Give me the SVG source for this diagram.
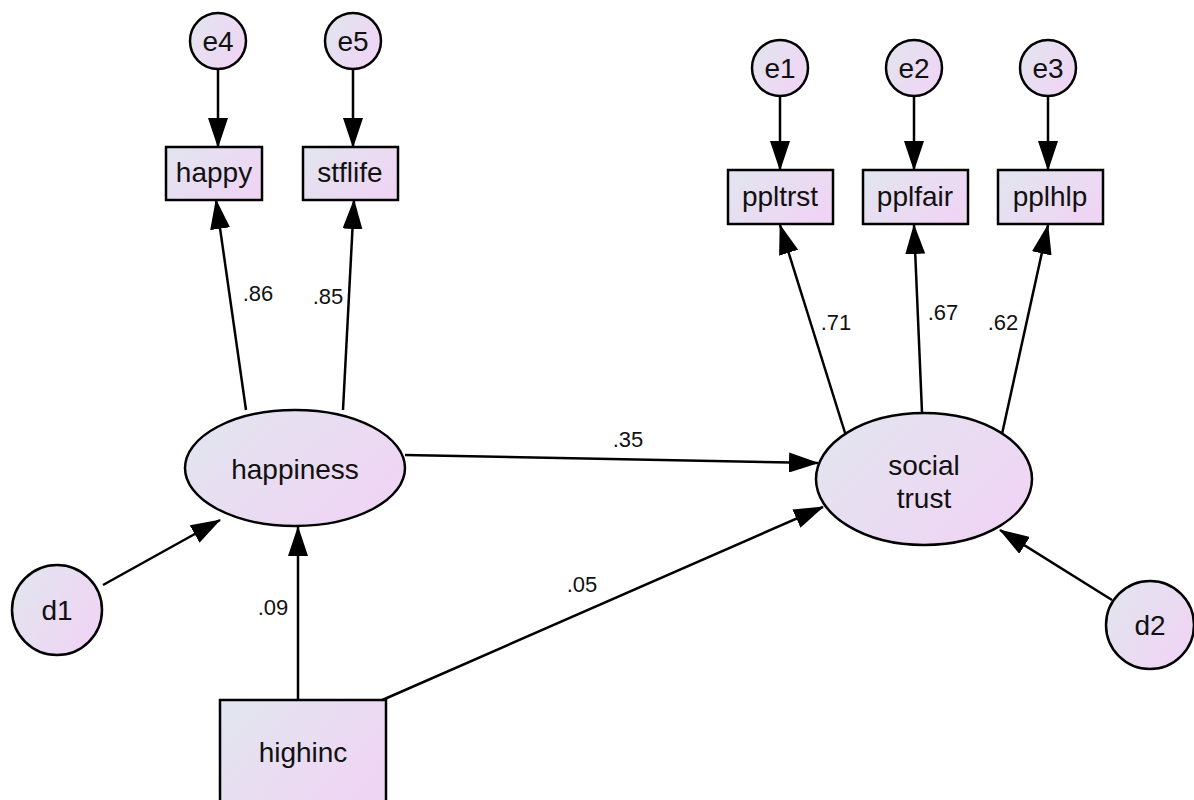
<svg xmlns="http://www.w3.org/2000/svg" width="1194" height="800" viewBox="0 0 1194 800">
<defs>
<linearGradient id="g" x1="0" y1="0" x2="1" y2="0.6">
<stop offset="0" stop-color="#e1e6ee"/>
<stop offset="1" stop-color="#efd5f4"/>
</linearGradient>
<marker id="ah" markerUnits="userSpaceOnUse" markerWidth="30" markerHeight="20" refX="29" refY="10" orient="auto">
<path d="M0,0 L30,10 L0,20 Z" fill="#000"/>
</marker>
</defs>
<style>
.n{fill:url(#g);stroke:#000;stroke-width:2.5}
.t{font-family:"Liberation Sans",Arial,sans-serif;font-size:28px;fill:#111;text-anchor:middle}
.l{font-family:"Liberation Sans",Arial,sans-serif;font-size:22px;fill:#111;text-anchor:middle}
.c line{stroke:#000;stroke-width:2.5;marker-end:url(#ah)}
</style>
<rect width="1194" height="800" fill="#fff"/>
<g class="c" id="connectors">
<line x1="218" y1="69" x2="218" y2="147"/>
<line x1="353" y1="69" x2="353" y2="147"/>
<line x1="780" y1="96" x2="780" y2="170"/>
<line x1="914" y1="96" x2="914" y2="170"/>
<line x1="1048" y1="96" x2="1048" y2="170"/>
<line x1="246" y1="410" x2="216" y2="200"/>
<line x1="343" y1="410" x2="354" y2="200"/>
<line x1="846" y1="436" x2="780" y2="225"/>
<line x1="922" y1="412" x2="914" y2="225"/>
<line x1="1002" y1="434" x2="1048" y2="225"/>
<line x1="405" y1="455" x2="818" y2="463"/>
<line x1="380" y1="701" x2="823" y2="507"/>
<line x1="298" y1="700" x2="298" y2="527"/>
<line x1="103" y1="585" x2="220" y2="520"/>
<line x1="1112" y1="600" x2="1000" y2="530"/>
</g>
<g id="labels">
<text class="l" x="258" y="301">.86</text>
<text class="l" x="328" y="304">.85</text>
<text class="l" x="836" y="330">.71</text>
<text class="l" x="943" y="320">.67</text>
<text class="l" x="1003" y="330">.62</text>
<text class="l" x="628" y="447">.35</text>
<text class="l" x="582" y="592">.05</text>
<text class="l" x="273" y="615">.09</text>
</g>
<g id="e4"><circle class="n" cx="218" cy="41" r="28"/><text class="t" x="218" y="51">e4</text></g>
<g id="e5"><circle class="n" cx="353" cy="41" r="28"/><text class="t" x="353" y="51">e5</text></g>
<g id="e1"><circle class="n" cx="780" cy="68" r="28"/><text class="t" x="780" y="78">e1</text></g>
<g id="e2"><circle class="n" cx="914" cy="68" r="28"/><text class="t" x="914" y="78">e2</text></g>
<g id="e3"><circle class="n" cx="1048" cy="68" r="28"/><text class="t" x="1048" y="78">e3</text></g>
<g id="happy"><rect class="n" x="166" y="147" width="96" height="53"/><text class="t" x="214" y="182">happy</text></g>
<g id="stflife"><rect class="n" x="303" y="147" width="95" height="53"/><text class="t" x="350" y="182">stflife</text></g>
<g id="ppltrst"><rect class="n" x="728" y="170" width="105" height="54"/><text class="t" x="780" y="206">ppltrst</text></g>
<g id="pplfair"><rect class="n" x="863" y="170" width="105" height="54"/><text class="t" x="915" y="206">pplfair</text></g>
<g id="pplhlp"><rect class="n" x="998" y="170" width="105" height="54"/><text class="t" x="1050" y="206">pplhlp</text></g>
<g id="happiness"><ellipse class="n" cx="295" cy="468" rx="110" ry="58"/><text class="t" x="295" y="479">happiness</text></g>
<g id="socialtrust"><ellipse class="n" cx="924" cy="479" rx="108" ry="66"/><text class="t" x="924" y="475">social</text><text class="t" x="924" y="508">trust</text></g>
<g id="d1"><circle class="n" cx="57" cy="610" r="45"/><text class="t" x="57" y="620">d1</text></g>
<g id="d2"><circle class="n" cx="1150" cy="625" r="44"/><text class="t" x="1150" y="635">d2</text></g>
<g id="highinc"><rect class="n" x="220" y="700" width="166" height="110"/><text class="t" x="303" y="762">highinc</text></g>
</svg>
